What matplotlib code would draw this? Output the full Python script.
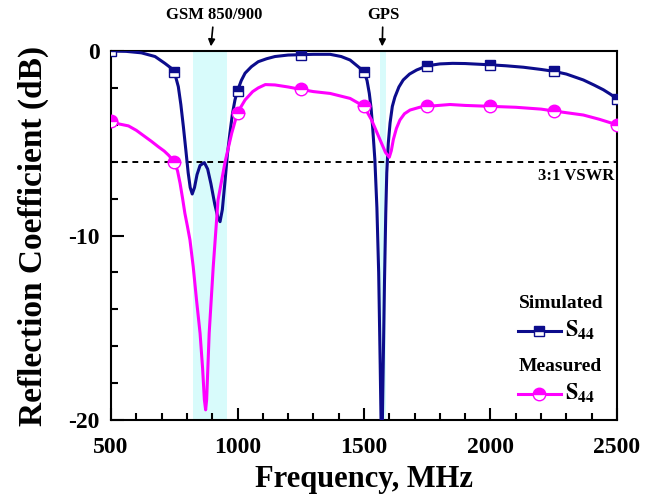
import numpy as np
import matplotlib
matplotlib.use("Agg")
import matplotlib.pyplot as plt
from matplotlib.lines import Line2D

plt.rcParams['font.family'] = ['Liberation Serif', 'DejaVu Serif']
plt.rcParams['font.weight'] = 'bold'
plt.rcParams['mathtext.fontset'] = 'stix'
plt.rcParams['axes.unicode_minus'] = False

# simulated S44 (dB) vs frequency (MHz)
sim_f = [500, 560, 620, 674, 713, 735, 750, 766, 776, 786, 796, 805, 813, 821,
         830, 840, 852, 869, 882, 895, 910, 922, 931, 940, 951, 960, 970, 980,
         990, 1000, 1015, 1030, 1055, 1082, 1115, 1148, 1200, 1250, 1300, 1366,
         1410, 1445, 1477, 1500, 1512, 1521, 1528, 1534, 1543, 1551, 1558, 1564,
         1570, 1576, 1581, 1586, 1590, 1596, 1603, 1612, 1622, 1638, 1655, 1680,
         1708, 1750, 1800, 1850, 1900, 2000, 2060, 2130, 2200, 2250, 2300, 2367,
         2410, 2446, 2475, 2500]
sim_db = [0.0, -0.02, -0.1, -0.3, -0.67, -0.9, -1.12, -1.93, -2.9, -4.1, -5.4,
          -6.6, -7.4, -7.75, -7.4, -6.7, -6.2, -6.05, -6.4, -7.2, -8.3, -9.0,
          -9.25, -8.6, -7.0, -5.6, -4.45, -3.4, -2.65, -2.15, -1.6, -1.2, -0.85,
          -0.58, -0.42, -0.3, -0.22, -0.2, -0.18, -0.18, -0.3, -0.49, -0.85,
          -1.12, -1.6, -2.3, -3.1, -4.1, -5.9, -8.5, -12.0, -17.0, -22.5, -17.0,
          -12.5, -8.8, -6.6, -5.0, -3.9, -3.0, -2.5, -1.95, -1.57, -1.25, -1.03,
          -0.8, -0.7, -0.67, -0.68, -0.75, -0.8, -0.88, -1.0, -1.1, -1.25, -1.57,
          -1.85, -2.1, -2.35, -2.6]

# measured S44 (dB) vs frequency (MHz)
meas_f = [500, 530, 569, 600, 634, 660, 687, 710, 727, 750, 763, 773, 783, 792,
          802, 812, 825, 838, 852, 862, 869, 874, 878, 888, 904, 923, 951, 977,
          1000, 1030, 1060, 1082, 1110, 1148, 1200, 1250, 1300, 1366, 1445, 1500,
          1530, 1563, 1585, 1600, 1608, 1616, 1628, 1642, 1660, 1682, 1720, 1750,
          1840, 1900, 2000, 2100, 2200, 2250, 2367, 2430, 2500]
meas_db = [-3.78, -3.95, -4.06, -4.3, -4.64, -4.9, -5.19, -5.42, -5.64, -6.0,
           -6.5, -7.17, -8.0, -8.8, -9.5, -10.24, -11.7, -13.5, -15.3, -17.2,
           -18.9, -19.45, -18.9, -15.3, -11.7, -8.08, -6.0, -4.46, -3.34, -2.65,
           -2.2, -2.0, -1.82, -1.84, -1.95, -2.08, -2.2, -2.3, -2.57, -3.0, -3.74,
           -4.8, -5.5, -5.76, -5.4, -4.8, -4.2, -3.74, -3.4, -3.2, -3.05, -3.0,
           -2.9, -2.95, -3.0, -3.05, -3.15, -3.25, -3.47, -3.7, -4.0]

marker_f = [500, 750, 1000, 1250, 1500, 1750, 2000, 2250, 2500]
gsm_band = (824, 960)
gps_band = (1565, 1587)
vswr_db = -6

navy = '#0c0c8c'
pink = '#ff00ff'

fig = plt.figure(figsize=(6.62, 4.98), dpi=100)
ax = fig.add_axes([0.1677, 0.1566, 0.7643, 0.741])

ax.axvspan(*gsm_band, color='#d8fbfb', lw=0, zorder=0)
ax.axvspan(*gps_band, color='#d8fbfb', lw=0, zorder=0)
ax.axhline(vswr_db, color='black', ls=(0, (3, 2.5)), lw=1.4, zorder=1)

sim_idx = list(np.where(np.isin(sim_f, marker_f))[0])
meas_idx = list(np.where(np.isin(meas_f, marker_f))[0])

ax.plot(sim_f, sim_db, color=navy, lw=2.2, marker='s', ms=7.5,
        markevery=sim_idx, fillstyle='top', markerfacecoloralt='white',
        mec=navy, mew=1.0, zorder=3)
ax.plot(meas_f, meas_db, color=pink, lw=2.2, marker='o', ms=9,
        markevery=meas_idx, fillstyle='top', markerfacecoloralt='white',
        mec=pink, mew=1.0, zorder=3)

ax.set_xlim(500, 2500)
ax.set_ylim(-20, 0)
ax.set_xticks(np.arange(500, 2501, 500))
ax.set_xticks(np.arange(500, 2501, 100), minor=True)
ax.set_yticks([0, -10, -20])
ax.set_yticks(np.arange(-20, 1, 2), minor=True)
ax.tick_params(which='both', direction='in', width=1.5, labelsize=17,
               top=False, right=False)
ax.tick_params(which='major', length=9)
ax.tick_params(which='minor', length=5)
ax.tick_params(axis='x', pad=12)
ax.tick_params(axis='y', pad=8)
for s in ax.spines.values():
    s.set_linewidth(1.5)

ax.set_xlabel('Frequency, MHz', fontsize=22, fontweight='bold', labelpad=5)
ax.set_ylabel('Reflection Coefficient (dB)', fontsize=24, fontweight='bold',
              labelpad=14)

# band annotations above the frame
arrow = dict(arrowstyle='-|>', color='black', lw=1.2, mutation_scale=10,
             shrinkA=1, shrinkB=0)
ax.annotate('GSM 850/900', xy=(895, 0.25), xytext=(907, 1.95),
            ha='center', va='center', fontsize=12, fontweight='bold',
            arrowprops=arrow, annotation_clip=False)
ax.annotate('GPS', xy=(1572, 0.25), xytext=(1575, 1.95),
            ha='center', va='center', fontsize=12, fontweight='bold',
            arrowprops=arrow, annotation_clip=False)

ax.text(2490, -6.35, '3:1 VSWR', ha='right', va='top', fontsize=12,
        fontweight='bold')

# hand-built legend
ax.text(2113, -13.7, 'Simulated', ha='left', va='center', fontsize=14,
        fontweight='bold')
ax.text(2113, -17.1, 'Measured', ha='left', va='center', fontsize=14,
        fontweight='bold')
for y, c, m, ms in [(-15.2, navy, 's', 7.5), (-18.6, pink, 'o', 9)]:
    ax.add_line(Line2D([2107, 2277], [y, y], color=c, lw=2.2, zorder=4))
    ax.add_line(Line2D([2192], [y], color=c, marker=m, ms=ms,
                       fillstyle='top', markerfacecoloralt='white',
                       mec=c, mew=1.0, zorder=5))
    ax.text(2296, y + 0.05, r'$\mathbf{S_{44}}$', ha='left', va='center',
            fontsize=16)

fig.savefig('out.png', dpi=100)
